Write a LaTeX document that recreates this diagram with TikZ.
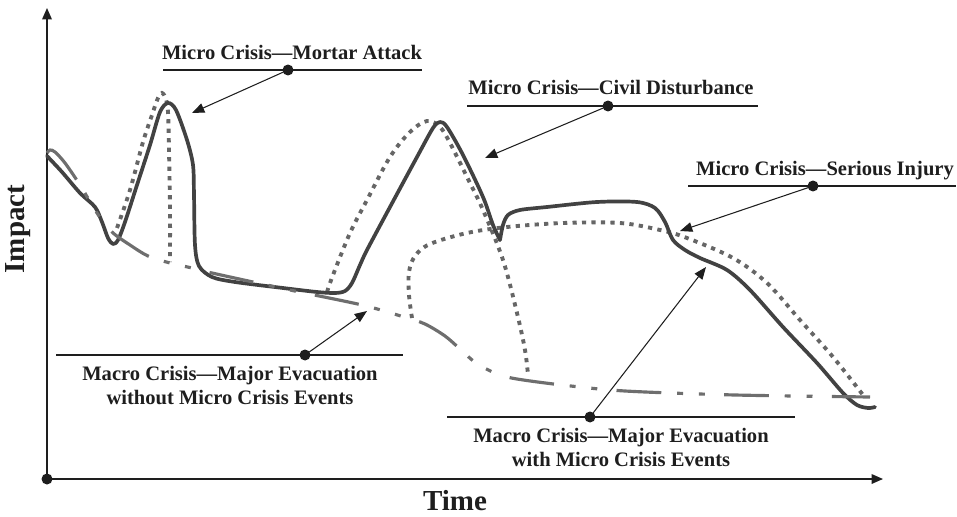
\documentclass[tikz,border=0pt]{standalone}
\usepackage{fontspec}
\setmainfont{Liberation Serif}
\usetikzlibrary{arrows.meta}
\definecolor{curvedark}{HTML}{424242}
\definecolor{curvegray}{HTML}{6E6E6E}
\definecolor{curvedot}{HTML}{666666}
\definecolor{inkblack}{HTML}{1E1E1E}
\begin{document}
\begin{tikzpicture}[x=0.02cm,y=-0.02cm,
  axisline/.style={line width=0.75pt, draw=inkblack, -{Triangle[length=6.5pt,width=5.5pt]}},
  callout/.style={line width=0.6pt, draw=inkblack, -{Triangle[length=7pt,width=5.5pt]}},
  rule/.style={line width=0.65pt, draw=inkblack},
  pin/.style={circle, fill=inkblack, inner sep=0pt, minimum size=0.22cm},
  label/.style={font=\bfseries\fontsize{11.7}{13.6}\selectfont, text=inkblack, inner sep=0pt, align=center},
  axislabel/.style={font=\bfseries\fontsize{16.5}{18}\selectfont, text=inkblack, inner sep=0pt},
  withevents/.style={line width=2.1pt, draw=curvedark, line join=round, line cap=round},
  withoutevents/.style={line width=1.8pt, draw=curvegray,
    dash pattern=on 25.5pt off 9pt on 3.4pt off 9pt on 3.4pt off 11pt},
  branch/.style={line width=2.2pt, draw=curvedot, dash pattern=on 2.4pt off 3pt}]

\useasboundingbox (0,0) rectangle (957,517);

% axes
\node[pin] (origin) at (47,479) {};
\coordinate (ytip) at (47,8);
\coordinate (xtip) at (883,479);
\draw[axisline] (origin.center) -- (ytip);
\draw[axisline] (origin.center) -- (xtip);
\node[axislabel, rotate=90, anchor=base] (impact) at (25,229) {Impact};
\node[axislabel, anchor=base] (time) at (455,510) {Time};

% dotted branches of the crisis with micro events
\draw[branch] plot[smooth, tension=0.55] coordinates {
  (117,228) (130,190) (143,142) (152,115) (158,98) (162,93) (166,99) (168,112) (169,150) (170,210) (170,262)};
\draw[branch] plot[smooth, tension=0.55] coordinates {
  (327,292) (333,275) (350,233) (367,200) (390,157) (410,132) (427,121) (440,127) (450,143) (467,177) (483,210) (503,260) (517,313) (525,350) (528,375)};
\draw[branch] plot[smooth, tension=0.55] coordinates {
  (412,318) (409,295) (409,272) (415,256) (430,244) (467,233) (507,227) (563,223) (620,223) (660,230) (687,238) (733,258) (767,283) (800,320) (833,357) (863,395)};

% solid curve: macro crisis with micro crisis events
\draw[withevents] plot[smooth, tension=0.5] coordinates {
  (47,156) (62,172) (80,193) (95,207) (102,222) (108,238) (113,244) (118,240) (125,222) (137,185) (150,145) (160,112) (168,103) (176,110) (187,140) (193,165) (194,195) (195,245) (199,266) (212,277) (235,282) (283,288) (317,292) (335,293) (345,291) (352,283) (360,265) (367,250) (390,207) (417,157) (433,128) (440,122) (447,127) (463,155) (483,197) (493,225) (500,240)};
\draw[withevents] plot[smooth, tension=0.5] coordinates {
  (500,240) (503,225) (508,215) (520,210) (547,207) (597,202) (637,202) (655,208) (665,222) (673,240) (685,250) (700,258) (727,270) (750,290) (783,327) (817,363) (843,393) (857,405) (868,408) (875,407)};

% dash-dot curve: macro crisis without micro crisis events
\draw[withoutevents] plot[smooth, tension=0.5] coordinates {
  (47,153) (50,150) (55,152) (65,163) (80,185) (97,213) (112,232) (130,245) (148,256) (170,263) (192,268) (212,273) (290,290) (362,305) (404,317) (425,324) (445,336) (460,349) (476,363) (497,374) (517,379) (562,385) (625,391) (735,395) (870,397)};

% callout: mortar attack
\node[label, anchor=base] (mortar) at (292,60) {Micro Crisis---Mortar Attack};
\coordinate (mortarL) at (163,70);
\coordinate (mortarR) at (422,70);
\draw[rule] (mortarL) -- (mortarR);
\node[pin] (mortarpin) at (288,70) {};
\coordinate (mortartip) at (192,113);
\draw[callout] (mortarpin.center) -- (mortartip);

% callout: civil disturbance
\node[label, anchor=base] (civil) at (611,95) {Micro Crisis---Civil Disturbance};
\coordinate (civilL) at (467,106);
\coordinate (civilR) at (758,106);
\draw[rule] (civilL) -- (civilR);
\node[pin] (civilpin) at (608,106) {};
\coordinate (civiltip) at (485,158);
\draw[callout] (civilpin.center) -- (civiltip);

% callout: serious injury
\node[label, anchor=base] (injury) at (825,175) {Micro Crisis---Serious Injury};
\coordinate (injuryL) at (688,186);
\coordinate (injuryR) at (956,186);
\draw[rule] (injuryL) -- (injuryR);
\node[pin] (injurypin) at (813,186) {};
\coordinate (injurytip) at (680,231);
\draw[callout] (injurypin.center) -- (injurytip);

% callout: evacuation without micro events
\node[label, anchor=north] (without) at (230,366) {Macro Crisis---Major Evacuation\\without Micro Crisis Events};
\coordinate (withoutL) at (56,355);
\coordinate (withoutR) at (403,355);
\draw[rule] (withoutL) -- (withoutR);
\node[pin] (withoutpin) at (305,355) {};
\coordinate (withouttip) at (367,311);
\draw[callout] (withoutpin.center) -- (withouttip);

% callout: evacuation with micro events
\node[label, anchor=north] (with) at (621,428) {Macro Crisis---Major Evacuation\\with Micro Crisis Events};
\coordinate (withL) at (447,417);
\coordinate (withR) at (795,417);
\draw[rule] (withL) -- (withR);
\node[pin] (withpin) at (590,417) {};
\coordinate (withtip) at (706,267);
\draw[callout] (withpin.center) -- (withtip);

\end{tikzpicture}
\end{document}
